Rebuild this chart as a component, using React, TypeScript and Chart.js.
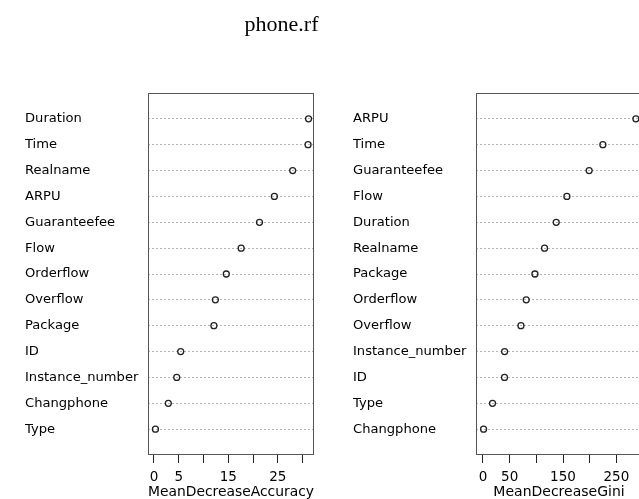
import React, { useEffect, useRef } from "react";
import { Chart, registerables } from "chart.js";

Chart.register(...registerables);

// Left panel: MeanDecreaseAccuracy
const accuracyVars = [
  "Duration", "Time", "Realname", "ARPU", "Guaranteefee", "Flow", "Orderflow",
  "Overflow", "Package", "ID", "Instance_number", "Changphone", "Type",
];
const accuracyValues = [31.2, 31.1, 28.0, 24.3, 21.3, 17.6, 14.6, 12.4, 12.1, 5.4, 4.6, 2.9, 0.3];
const accuracyTicks = [0, 5, 10, 15, 20, 25, 30];
const accuracyTickLabels = ["0", "5", "", "15", "", "25", ""];

// Right panel: MeanDecreaseGini
const giniVars = [
  "ARPU", "Time", "Guaranteefee", "Flow", "Duration", "Realname", "Package",
  "Orderflow", "Overflow", "Instance_number", "ID", "Type", "Changphone",
];
const giniValues = [286.5, 224.7, 199.0, 157.3, 137.3, 115.4, 97.4, 81.1, 71.2, 40.6, 40.4, 18.0, 1.2];
const giniTicks = [0, 50, 100, 150, 200, 250, 300];
const giniTickLabels = ["0", "50", "", "150", "", "250", ""];

const chartTitle = "phone.rf";

const SANS = "'DejaVu Sans', sans-serif";

const boxPlugin = {
  id: "rbox",
  beforeDatasetsDraw(chart: any) {
    const { ctx, chartArea } = chart;
    ctx.save();
    ctx.strokeStyle = "#555";
    ctx.lineWidth = 1;
    ctx.setLineDash([]);
    ctx.strokeRect(
      Math.round(chartArea.left) + 0.5,
      Math.round(chartArea.top) + 0.5,
      Math.round(chartArea.right - chartArea.left) - 1,
      Math.round(chartArea.bottom - chartArea.top) - 1
    );
    ctx.restore();
  },
};

function makeConfig(p: {
  vars: string[];
  values: number[];
  ticks: number[];
  tickLabels: string[];
  xMin: number;
  xMax: number;
  xTitle: string;
  title: boolean;
  padding: any;
  yWidth: number;
  extraRight: number;
}): any {
  const n = p.vars.length;
  const data = p.values.map((v, i) => ({ x: v, y: n - i }));
  const scales: any = {
    x: {
      type: "linear",
      position: "bottom",
      min: p.xMin,
      max: p.xMax,
      afterBuildTicks: (s: any) => {
        s.ticks = p.ticks.map((v) => ({ value: v }));
      },
      ticks: {
        autoSkip: false,
        maxRotation: 0,
        padding: 6,
        color: "#000",
        font: { family: SANS, size: 13.5 },
        callback: (_v: any, i: number) => p.tickLabels[i] ?? "",
      },
      grid: {
        drawOnChartArea: false,
        drawTicks: true,
        tickLength: 8,
        color: "#222",
        tickColor: "#222",
        lineWidth: 1,
      },
      border: { display: false },
      title: {
        display: true,
        text: p.xTitle,
        color: "#000",
        font: { family: SANS, size: 14, lineHeight: 1 },
        padding: { top: 0, bottom: 0 },
      },
      afterFit: (s: any) => {
        s.height = 44;
      },
    },
    y: {
      type: "linear",
      position: "left",
      min: 0,
      max: n + 1,
      afterBuildTicks: (s: any) => {
        s.ticks = p.vars.map((_, i) => ({ value: n - i }));
      },
      ticks: {
        autoSkip: false,
        crossAlign: "far",
        color: "#000",
        font: { family: SANS, size: 13.1 },
        callback: (v: any) => p.vars[n - Number(v)] ?? "",
      },
      grid: {
        color: "#b4b4b4",
        drawTicks: false,
        lineWidth: 1,
        borderDash: [2, 2],
      },
      border: { display: false, dash: [2, 2] },
      afterFit: (s: any) => {
        s.width = p.yWidth;
      },
    },
  };
  if (p.extraRight > 0) {
    scales.pad = {
      type: "linear",
      position: "right",
      display: true,
      grid: { display: false },
      border: { display: false },
      ticks: { display: false },
      afterFit: (s: any) => {
        s.width = p.extraRight;
      },
    };
  }
  return {
    type: "scatter",
    data: {
      datasets: [
        {
          data,
          pointRadius: 3,
          pointBorderWidth: 1.3,
          pointBorderColor: "#222",
          pointBackgroundColor: "rgba(0,0,0,0)",
          pointStyle: "circle",
        },
      ],
    },
    options: {
      animation: false,
      responsive: false,
      devicePixelRatio: 1,
      events: [],
      layout: { padding: p.padding },
      plugins: {
        legend: { display: false },
        tooltip: { enabled: false },
        title: {
          display: p.title,
          text: chartTitle,
          color: "#000",
          font: { family: "'Liberation Serif', serif", size: 22, weight: "normal", lineHeight: 1.2 },
          padding: { top: 12, bottom: 54.6 },
        },
      },
      scales,
    },
    plugins: [boxPlugin],
  };
}

export default function App() {
  const leftRef = useRef<HTMLCanvasElement>(null);
  const rightRef = useRef<HTMLCanvasElement>(null);

  useEffect(() => {
    const left = new Chart(
      leftRef.current!,
      makeConfig({
        vars: accuracyVars,
        values: accuracyValues,
        ticks: accuracyTicks,
        tickLabels: accuracyTickLabels,
        xMin: -1.2,
        xMax: 32.3,
        xTitle: "MeanDecreaseAccuracy",
        title: true,
        padding: { left: 25, right: 0, top: 0, bottom: 0 },
        yWidth: 123,
        extraRight: 224,
      })
    );
    const right = new Chart(
      rightRef.current!,
      makeConfig({
        vars: giniVars,
        values: giniValues,
        ticks: giniTicks,
        tickLabels: giniTickLabels,
        xMin: -13,
        xMax: 298,
        xTitle: "MeanDecreaseGini",
        title: false,
        padding: { left: 353, right: 18, top: 93, bottom: 0 },
        yWidth: 123,
        extraRight: 0,
      })
    );
    return () => {
      left.destroy();
      right.destroy();
    };
  }, []);

  return (
    <div
      style={{
        position: "fixed",
        left: 0,
        top: 0,
        width: 639,
        height: 499,
        overflow: "hidden",
        background: "#fff",
      }}
    >
      <canvas
        ref={leftRef}
        width={538}
        height={499}
        style={{ position: "absolute", left: 0, top: 0, width: 538, height: 499 }}
      />
      <canvas
        ref={rightRef}
        width={660}
        height={499}
        style={{ position: "absolute", left: 0, top: 0, width: 660, height: 499 }}
      />
    </div>
  );
}
